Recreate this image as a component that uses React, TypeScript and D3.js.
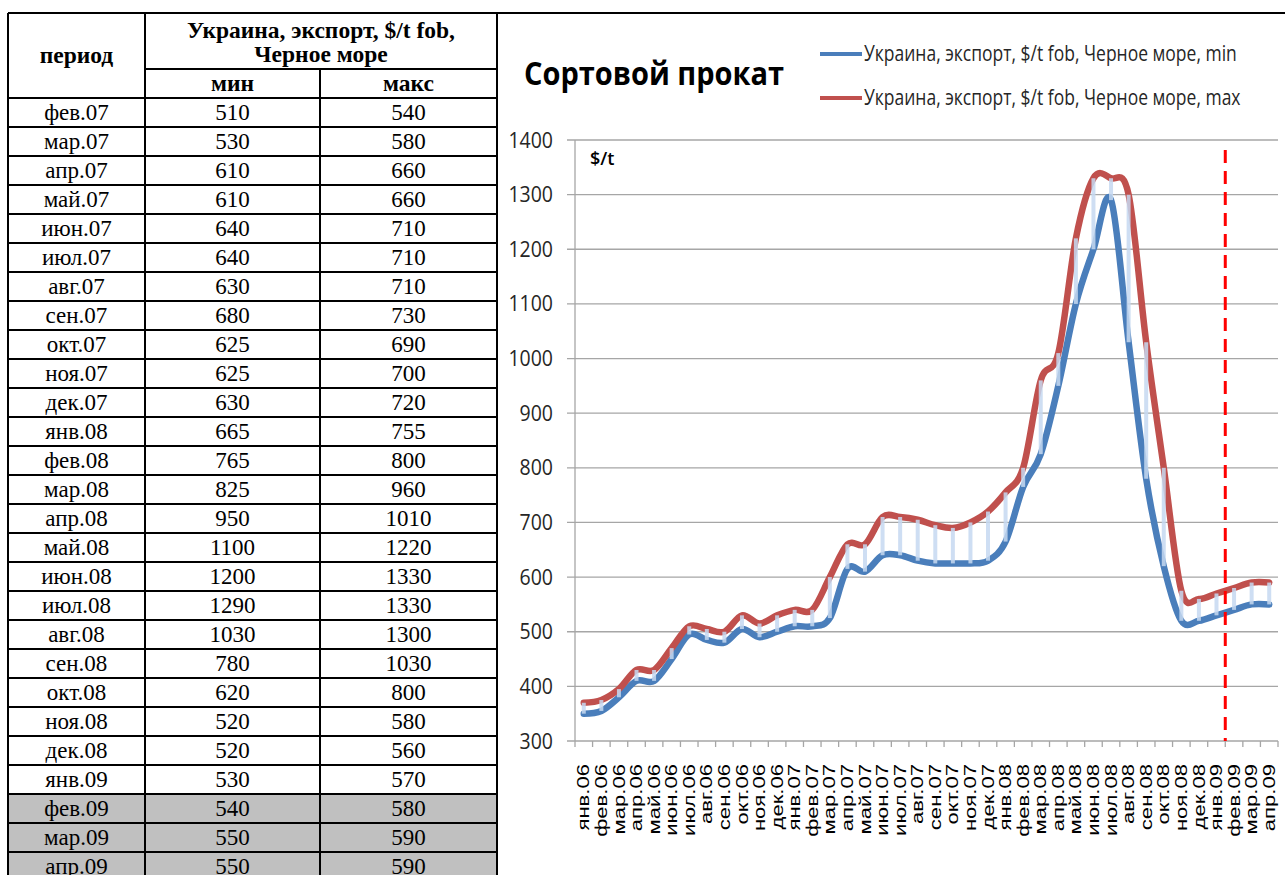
import React from 'react';
import * as d3 from 'd3';

// chart series
const months = [
  'янв.06', 'фев.06', 'мар.06', 'апр.06', 'май.06', 'июн.06', 'июл.06', 'авг.06', 'сен.06', 'окт.06', 'ноя.06', 'дек.06',
  'янв.07', 'фев.07', 'мар.07', 'апр.07', 'май.07', 'июн.07', 'июл.07', 'авг.07', 'сен.07', 'окт.07', 'ноя.07', 'дек.07',
  'янв.08', 'фев.08', 'мар.08', 'апр.08', 'май.08', 'июн.08', 'июл.08', 'авг.08', 'сен.08', 'окт.08', 'ноя.08', 'дек.08',
  'янв.09', 'фев.09', 'мар.09', 'апр.09'
];
const minValues = [
  350, 355, 380, 410, 410, 450, 495, 485, 480, 505, 490, 500,
  510, 510, 525, 615, 610, 640, 640, 630, 625, 625, 625, 630,
  665, 765, 825, 950, 1100, 1200, 1290, 1030, 780, 620, 520, 520,
  530, 540, 550, 550
];
const maxValues = [
  370, 375, 395, 430, 430, 470, 510, 505, 500, 530, 515, 530,
  540, 540, 600, 660, 660, 710, 710, 705, 695, 690, 700, 720,
  755, 800, 960, 1010, 1220, 1330, 1330, 1300, 1030, 800, 575, 560,
  570, 580, 590, 590
];
const yTicks = [300, 400, 500, 600, 700, 800, 900, 1000, 1100, 1200, 1300, 1400];
const forecastStart = 'фев.09';
const seriesNames = [
  'Украина, экспорт, $/t fob, Черное море, min',
  'Украина, экспорт, $/t fob, Черное море, max'
];

// table on the left
const tablePeriods = [
  'фев.07', 'мар.07', 'апр.07', 'май.07', 'июн.07', 'июл.07', 'авг.07', 'сен.07', 'окт.07', 'ноя.07', 'дек.07',
  'янв.08', 'фев.08', 'мар.08', 'апр.08', 'май.08', 'июн.08', 'июл.08', 'авг.08', 'сен.08', 'окт.08', 'ноя.08',
  'дек.08', 'янв.09', 'фев.09', 'мар.09', 'апр.09'
];
const tableMin = [
  '510', '530', '610', '610', '640', '640', '630', '680', '625', '625', '630', '665', '765', '825', '950',
  '1100', '1200', '1290', '1030', '780', '620', '520', '520', '530', '540', '550', '550'
];
const tableMax = [
  '540', '580', '660', '660', '710', '710', '710', '730', '690', '700', '720', '755', '800', '960', '1010',
  '1220', '1330', '1330', '1300', '1030', '800', '580', '560', '570', '580', '590', '590'
];
const forecastRows = ['фев.09', 'мар.09', 'апр.09'];

const W = 1285;
const H = 875;
const BLUE = '#4a7ebb';
const RED = '#c0504d';
const GRID = '#a6a6a6';
const CHART_FONT = '"Open Sans", "Noto Sans", sans-serif';

function Table()
{
  let cols = [8, 145, 320, 497];
  let top = 13, mid = 69, head = 98, rowH = 29;
  let serif = '"Liberation Serif", "DejaVu Serif", serif';

  let rows = tablePeriods.map(function(p, i)
  {
    let y0 = head + i * rowH;
    let grey = forecastRows.indexOf(p) >= 0;
    let base = y0 + rowH / 2 + 7.5;
    return (
      <g key={p}>
        {grey && <rect x={cols[0]} y={y0} width={cols[3] - cols[0]} height={rowH} fill="#c0c0c0"/>}
        <line x1={cols[0]} x2={cols[3]} y1={y0} y2={y0} stroke="#000" strokeWidth={2}/>
        <text x={(cols[0] + cols[1]) / 2} y={base} textAnchor="middle">{p}</text>
        <text x={(cols[1] + cols[2]) / 2} y={base} textAnchor="middle">{tableMin[i]}</text>
        <text x={(cols[2] + cols[3]) / 2} y={base} textAnchor="middle">{tableMax[i]}</text>
      </g>
    );
  });

  return (
    <g fontFamily={serif} fontSize={23} fill="#000">
      {rows}
      <line x1={cols[0]} x2={W} y1={top} y2={top} stroke="#000" strokeWidth={2}/>
      <line x1={cols[1]} x2={cols[3]} y1={mid} y2={mid} stroke="#000" strokeWidth={2}/>
      {cols.map((c, i) =>
        <line key={i} x1={c} x2={c} y1={i === 2 ? mid : top} y2={H}
              stroke="#000" strokeWidth={2}/>
      )}
      <g fontWeight="bold" fontSize={23.5}>
        <text x={(cols[0] + cols[1]) / 2} y={63} textAnchor="middle">период</text>
        <text x={(cols[1] + cols[3]) / 2} y={38} textAnchor="middle">Украина, экспорт, $/t fob,</text>
        <text x={(cols[1] + cols[3]) / 2} y={62} textAnchor="middle">Черное море</text>
        <text x={(cols[1] + cols[2]) / 2} y={91} textAnchor="middle">мин</text>
        <text x={(cols[2] + cols[3]) / 2} y={91} textAnchor="middle">макс</text>
      </g>
    </g>
  );
}

function Chart()
{
  let left = 575, right = 1278, top = 140, bottom = 741;

  let x = d3.scaleBand().domain(months).range([left, right]);
  let y = d3.scaleLinear().domain([300, 1400]).range([bottom, top]);
  let cx = (m: string) => (x(m) as number) + x.bandwidth() / 2;

  let line = d3.line<number>()
    .x((d, i) => cx(months[i]))
    .y(d => y(d))
    .curve(d3.curveCardinal.tension(0));

  let grid = yTicks.map(t =>
    <g key={t}>
      <line x1={left - 8} x2={right} y1={y(t)} y2={y(t)} stroke={GRID} strokeWidth={1.3}/>
      <text transform={`translate(553,${y(t)}) scale(1,1.1)`} dy="0.35em" textAnchor="end"
            fontSize={19.5} fill="#262626">{t}</text>
    </g>
  );

  let xTicks = months.map(m => x(m) as number).concat([right]).map((v, i) =>
    <line key={i} x1={v} x2={v} y1={bottom} y2={bottom + 6} stroke={GRID} strokeWidth={1.3}/>
  );

  let xLabels = months.map(m =>
    <text key={m} transform={`translate(${cx(m)},764) rotate(-90) scale(1.38,1)`}
          textAnchor="end" dy="0.35em" fontSize={16}
          fontFamily='"Liberation Sans", Arial, sans-serif' fill="#000">{m}</text>
  );

  let hiLo = months.map((m, i) =>
    <line key={m} x1={cx(m)} x2={cx(m)} y1={y(maxValues[i])} y2={y(minValues[i])}
          stroke="#c6d9f1" strokeWidth={4} opacity={0.85}/>
  );

  let fx = x(forecastStart) as number;

  return (
    <g fontFamily={CHART_FONT}>
      <text transform="translate(524,85) scale(1,1.1)" fontSize={29} fontWeight="bold" fill="#000">Сортовой прокат</text>

      {seriesNames.map((s, i) =>
        <g key={s} transform={`translate(0,${54 + i * 44})`}>
          <line x1={820} x2={862} y1={0} y2={0} stroke={i === 0 ? BLUE : RED} strokeWidth={4}/>
          <text transform="translate(864,0) scale(1,1.2)" dy="0.35em" fontSize={17.5} fill="#262626">{s}</text>
        </g>
      )}

      {grid}
      <line x1={left} x2={left} y1={top} y2={bottom} stroke={GRID} strokeWidth={1.3}/>
      {xTicks}
      <text x={590} y={165} fontSize={18} fontWeight={600} fill="#000">$/t</text>

      <path d={line(minValues) || ''} fill="none" stroke={BLUE} strokeWidth={6.5}
            strokeLinejoin="round" strokeLinecap="round"/>
      <path d={line(maxValues) || ''} fill="none" stroke={RED} strokeWidth={6.5}
            strokeLinejoin="round" strokeLinecap="round"/>
      {hiLo}

      <line x1={fx} x2={fx} y1={150} y2={bottom} stroke="#ff0000" strokeWidth={3} strokeDasharray="13 8"/>
      {xLabels}
    </g>
  );
}

export default function App()
{
  return (
    <div style={{position: 'absolute', left: 0, top: 0}}>
      <svg width={W} height={H} style={{display: 'block', background: '#fff'}}>
        <Table/>
        <Chart/>
      </svg>
    </div>
  );
}
